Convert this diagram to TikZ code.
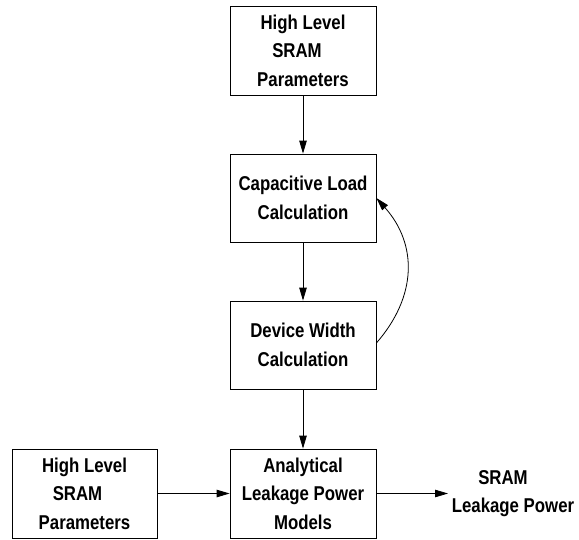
\documentclass[tikz,border=0pt]{standalone}
\usepackage{fontspec}
\setmainfont{Liberation Sans}[FakeStretch=0.84]
\usetikzlibrary{arrows.meta}
\begin{document}
\begin{tikzpicture}[x=1pt,y=1pt,
  box/.style={draw,line width=0.8pt,minimum width=146pt,minimum height=89pt,inner sep=0pt,align=center,
    font=\fontsize{20}{28.5}\selectfont\bfseries},
  lbl/.style={inner sep=0pt,align=center,font=\fontsize{20}{28.5}\selectfont\bfseries},
  arr/.style={line width=0.8pt,-{Triangle[length=13pt,width=7.5pt]}}]
\useasboundingbox (0,0) rectangle (579,-539);
\node[box] (top) at (303,-50.5) {High Level\\\hspace*{-12pt}SRAM\\Parameters};
\node[box,minimum height=88pt] (cap) at (303,-198) {Capacitive Load\\Calculation};
\node[box,minimum height=88pt] (dev) at (303,-345) {Device Width\\Calculation};
\node[box] (ana) at (303,-493.5) {Analytical\\Leakage Power\\Models};
\node[box,minimum width=145pt] (left) at (84.5,-493.5) {High Level\\\hspace*{-14pt}SRAM\\Parameters};
\node[lbl] (out) at (513,-493.5) {\hspace*{-20pt}SRAM\\Leakage Power};
\coordinate (outend) at (448,-493.5);
\draw[arr] (top) -- (cap);
\draw[arr] (cap) -- (dev);
\draw[arr] (dev) -- (ana);
\draw[arr] (left) -- (ana);
\draw[arr] (ana) -- (outend);
\draw[arr] ([yshift=2pt]dev.east) .. controls +(41,47) and +(41,-46) .. (cap.east);
\end{tikzpicture}
\end{document}
